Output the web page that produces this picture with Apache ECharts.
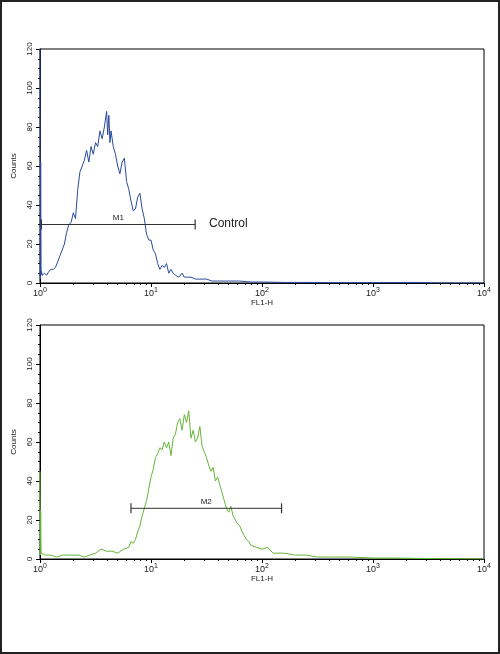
<!DOCTYPE html><html><head><meta charset="utf-8">
<script src="https://cdn.jsdelivr.net/npm/echarts@6/dist/echarts.min.js"></script>
<style>html,body{margin:0;padding:0;background:#fff}#c{width:496px;height:650px;border:2px solid #222}</style></head><body><div id="c"></div>
<script>
// exponents (log10 of FL1-H) and counts
const ctrlExp = [0,0.003,0.006,0.01,0.013,0.02,0.04,0.06,0.08,0.1,0.12,0.14,0.16,0.18,0.2,0.22,0.24,0.26,0.28,0.3,0.32,0.34,0.36,0.38,0.4,0.42,0.44,0.46,0.48,0.5,0.52,0.54,0.56,0.58,0.6,0.61,0.62,0.63,0.64,0.66,0.68,0.7,0.72,0.74,0.76,0.78,0.8,0.82,0.84,0.86,0.88,0.9,0.92,0.94,0.96,0.98,1.0,1.02,1.04,1.06,1.08,1.1,1.12,1.14,1.16,1.18,1.2,1.22,1.25,1.28,1.3,1.33,1.36,1.4,1.45,1.5,1.55,1.6,1.7,1.8,1.9,2.0,2.2,2.4,2.6,2.8,3.0,3.2,3.4,3.6,4.0];
const ctrlCnt = [125,2,62,4,6,4,5,4,6,7,7,8,11,14,17,20,26,30,31,36,33,48,57,60,63,68,62,70,66,72,70,78,74,80,88,76,86,72,78,70,66,60,56,62,64,52,48,42,37,38,44,46,38,33,25,22,22,17,15,10,7,9,8,10,5,7,5,4,3,5,3,3,3,2,2,2,1,1,1,1,0.5,0.5,0.3,0.3,0.2,0.2,0.2,0.2,0.3,0,0];
const trtExp = [0,0.003,0.006,0.01,0.02,0.05,0.1,0.15,0.2,0.25,0.3,0.35,0.4,0.45,0.5,0.55,0.6,0.65,0.7,0.75,0.8,0.82,0.84,0.86,0.88,0.9,0.92,0.94,0.96,0.98,1.0,1.02,1.04,1.06,1.08,1.1,1.12,1.14,1.16,1.18,1.2,1.22,1.24,1.26,1.28,1.3,1.32,1.34,1.36,1.38,1.4,1.42,1.44,1.46,1.48,1.5,1.52,1.54,1.56,1.58,1.6,1.62,1.64,1.66,1.68,1.7,1.72,1.74,1.76,1.78,1.8,1.82,1.84,1.86,1.88,1.9,1.95,2.0,2.05,2.1,2.2,2.3,2.4,2.5,2.6,2.8,3.0,3.2,3.4,4.0];
const trtCnt = [45,2,25,3,2,2,2,1,2,2,2,2,1,2,3,5,4,4,3,5,6,9,8,10,14,17,22,26,30,36,42,46,52,54,57,56,60,57,60,53,62,64,70,72,66,74,70,76,62,66,60,62,68,58,55,52,48,45,47,40,42,38,34,30,26,24,27,22,20,18,17,14,12,10,9,7,6,5,6,3,3,2,2,1,1,1,0.5,0.5,0.3,0];
const yTicks = [0,20,40,60,80,100,120];
const toPts = (ex, ct) => ex.map((e,i)=>[Math.pow(10,e), ct[i]]);
function xAx(i){return {type:'log',logBase:10,min:1,max:10000,gridIndex:i,
  name:'FL1-H',nameLocation:'middle',nameGap:8,nameTextStyle:{fontSize:8,color:'#222'},
  axisLine:{lineStyle:{color:'#000'}},axisTick:{length:4,lineStyle:{color:'#000'}},
  minorTick:{show:true,splitNumber:9,length:2,lineStyle:{color:'#000'}},splitLine:{show:false},
  axisLabel:{fontSize:9,color:'#222',margin:4,formatter:v=>{const n=Math.round(Math.log10(v));return '10{s|'+n+'}';},rich:{s:{fontSize:7,verticalAlign:'top',padding:[0,0,6,0]}}}};}
function yAx(i){return {type:'value',min:0,max:120,interval:20,gridIndex:i,name:'Counts',nameLocation:'middle',nameGap:22,nameTextStyle:{fontSize:8,color:'#222'},
  axisLine:{show:true,lineStyle:{color:'#000'}},axisTick:{show:true,length:4,lineStyle:{color:'#000'}},
  minorTick:{show:true,splitNumber:4,length:2,lineStyle:{color:'#000'}},splitLine:{show:false},
  axisLabel:{fontSize:8,color:'#222',rotate:90,margin:6}};}
const gate = (i,x1,x2,y,name)=>({type:'line',xAxisIndex:i,yAxisIndex:i,data:[[x1,y],[x2,y]],symbol:'rect',symbolSize:[1.2,10],
  itemStyle:{color:'#333'},lineStyle:{color:'#333',width:1},silent:true,z:5,
  markPoint:{symbol:'circle',symbolSize:1,itemStyle:{color:'transparent'},label:{show:true,color:'#222',fontSize:8,position:'top',distance:2,formatter:name},data:[{coord:[Math.sqrt(x1*x2),y]}]}});
const chart = echarts.init(document.getElementById('c'));
chart.setOption({animation:false,
 grid:[{left:27,right:14,top:47,height:234,show:true,borderColor:'#000',borderWidth:1},{left:27,right:14,top:323,height:234,show:true,borderColor:'#000',borderWidth:1}],
 xAxis:[xAx(0),xAx(1)], yAxis:[yAx(0),yAx(1)],
 series:[
  {type:'line',xAxisIndex:0,yAxisIndex:0,data:toPts(ctrlExp,ctrlCnt),showSymbol:false,lineStyle:{color:'#2a4a9a',width:1},itemStyle:{color:'#2a4a9a'},clip:true},
  {type:'line',xAxisIndex:1,yAxisIndex:1,data:toPts(trtExp,trtCnt),showSymbol:false,lineStyle:{color:'#66b43a',width:1},itemStyle:{color:'#66b43a'},clip:true},
  gate(0,1.03,25,30,'M1'), gate(1,6.6,150,26,'M2')
 ],
 graphic:[{type:'text',left:207,top:216,style:{text:'Control',fontSize:12,fill:'#222',fontFamily:'Liberation Sans'}}]
});
</script></body></html>
